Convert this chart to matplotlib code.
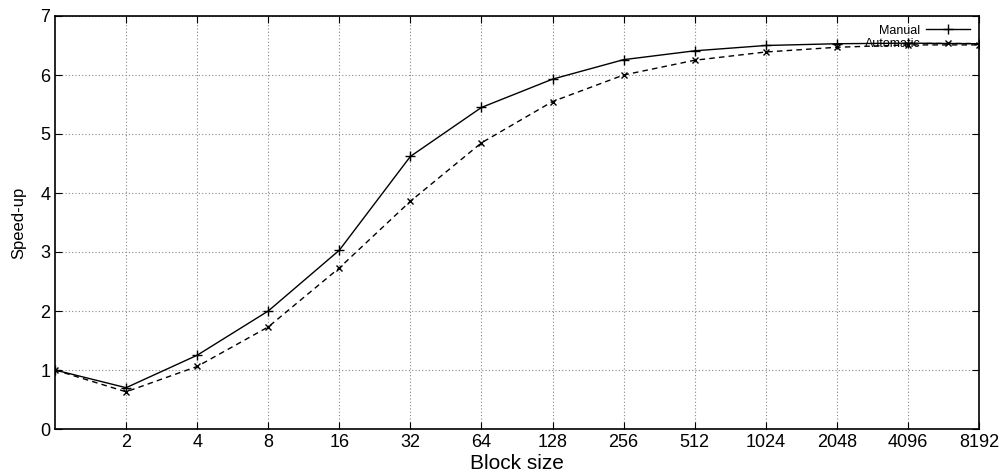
import matplotlib
matplotlib.use("Agg")
import matplotlib.pyplot as plt

plt.rcParams["font.family"] = ["Liberation Sans", "DejaVu Sans"]

# block sizes (log2 x axis) and measured speed-ups
block_sizes = [1, 2, 4, 8, 16, 32, 64, 128, 256, 512, 1024, 2048, 4096, 8192]
manual = [1.0, 0.70, 1.25, 2.0, 3.03, 4.62, 5.45, 5.93, 6.26, 6.41, 6.50, 6.53, 6.54, 6.53]
automatic = [1.0, 0.63, 1.06, 1.73, 2.73, 3.86, 4.85, 5.55, 6.0, 6.25, 6.39, 6.47, 6.51, 6.51]
tick_labels = ["2", "4", "8", "16", "32", "64", "128", "256", "512",
               "1024", "2048", "4096", "8192"]

fig = plt.figure(figsize=(10.04, 4.73), dpi=100)
ax = fig.add_axes([55 / 1004, 44 / 473, 924 / 1004, 413 / 473])

ax.plot(block_sizes, manual, color="black", lw=1, marker="+", ms=7,
        mew=1, label="Manual")
ax.plot(block_sizes, automatic, color="black", lw=1, ls=(0, (4, 3)),
        marker="x", ms=5, mew=1, label="Automatic")

ax.set_xscale("log", base=2)
ax.set_xlim(1, 8192)
ax.set_ylim(0, 7)
ax.set_xticks(block_sizes[1:])
ax.set_xticklabels(tick_labels)
ax.minorticks_off()
ax.set_yticks(range(8))

ax.grid(True, color="#888888", ls=(0, (1, 2)), lw=0.8)
ax.tick_params(direction="in", top=True, right=True, labelsize=13,
               length=5, width=0.8)
for s in ax.spines.values():
    s.set_linewidth(1.2)

ax.set_xlabel("Block size", fontsize=15, labelpad=2)
ax.set_ylabel("Speed-up", fontsize=12, labelpad=10)

ax.legend(loc="upper right", frameon=False, markerfirst=False,
          fontsize=9, handlelength=3.5, borderaxespad=0.3,
          labelspacing=0.1, handletextpad=0.5)

fig.savefig("out.png", dpi=100)
